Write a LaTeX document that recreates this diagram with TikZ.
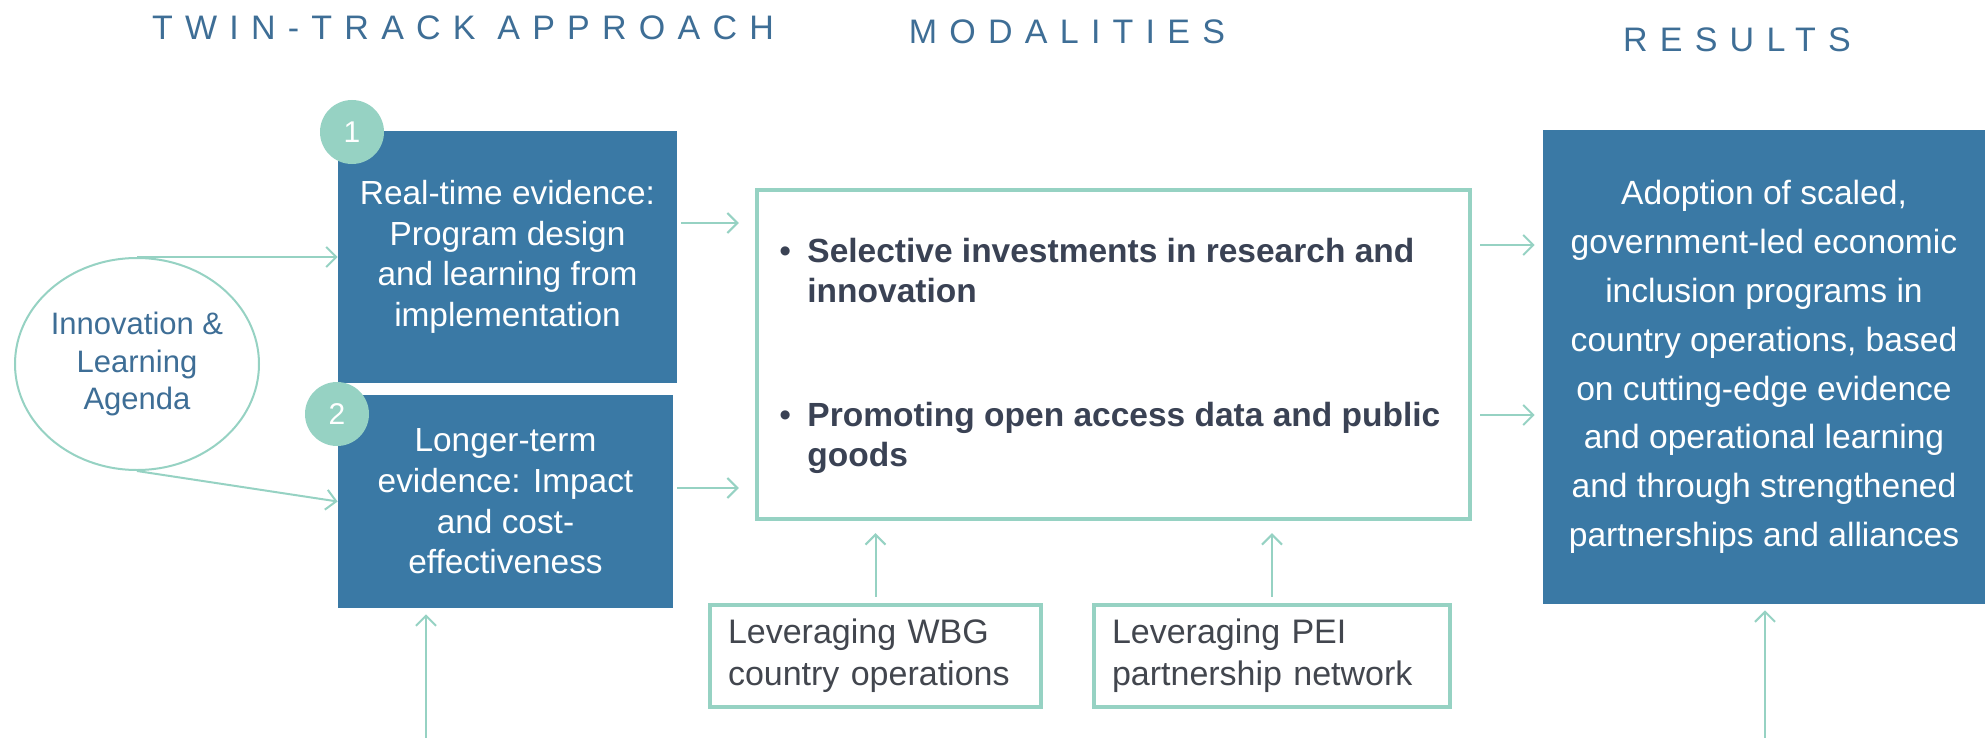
\documentclass[tikz,border=0pt]{standalone}
\usepackage{fontspec}
\setmainfont{Liberation Sans}
\newfontfamily\headfont[LetterSpace=36]{Liberation Sans}
\usepackage{xcolor}
\definecolor{steel}{RGB}{58,121,165}
\definecolor{mint}{RGB}{150,210,195}
\definecolor{headblue}{RGB}{62,110,150}
\definecolor{slate}{RGB}{58,66,84}
\definecolor{greytxt}{RGB}{66,70,78}
\usetikzlibrary{calc,positioning,arrows.meta,shapes.geometric}
\tikzset{
    track/.style={
    rectangle,fill=steel,text=white,align=center,inner sep=0pt,
    font=\fontsize{16.7}{20.3}\selectfont
    },
    num/.style={
    circle,fill=mint,text=white,minimum size=32pt,inner sep=0pt,
    font=\fontsize{15}{15}\selectfont
    },
    agenda/.style={
    ellipse,draw=mint,line width=1pt,text=headblue,align=center,inner sep=0pt,
    minimum width=122pt,minimum height=106pt,font=\fontsize{15.5}{18.75}\selectfont
    },
    modbox/.style={rectangle,draw=mint,line width=2.2pt,fill=white,minimum width=356.5pt,minimum height=164.5pt},
  bultext/.style={text=slate,inner sep=0pt,font=\fontsize{16.75}{20.25}\selectfont},
  lever/.style={rectangle,draw=mint,line width=2.2pt,text=greytxt,align=left,minimum height=51pt,inner xsep=9pt,
    font=\fontsize{17}{21}\selectfont},
  head/.style={text=headblue,inner sep=0pt,font=\headfont\fontsize{17}{17}\selectfont},
  line/.style={draw=mint,line width=1pt,-{Straight Barb[length=5pt,width=10pt]}}
}

\begin{document}
\begin{tikzpicture}[x=0.5pt,y=-0.5pt]
    \useasboundingbox (0,0) rectangle (1985,738);
    \fill[white] (0,0) rectangle (1985,738);

    \node[head] (twin) at (463,28) {TWIN-TRACK APPROACH};
    \node[head] (moda) at (1067,32) {MODALITIES};
    \node[head] (resh) at (1737,40) {RESULTS};

    \node[agenda] (innov) at (137,364) {Innovation \&\\Learning\\Agenda};

    % twin tracks
    \node[track,minimum width=169.5pt,minimum height=126pt] (real) at (507.5,257)
      {Real-time evidence:\\Program design\\and learning from\\implementation};
    \node[track,minimum width=167.5pt,minimum height=106.5pt] (longer) at (505.5,501.5)
      {Longer-term\\evidence: Impact\\and cost-\\effectiveness};
    \node[num] (one) at (352,132) {1};
    \node[num] (two) at (337,414) {2};

    % modalities
    \node[modbox] (mod) at (1113.5,354.5) {};
    \node[bultext,anchor=base west] (sel) at (779,262) {\parbox[t]{340pt}{\makebox[14pt][l]{\textbullet}\textbf{Selective investments in research and}\\\hspace*{14pt}\textbf{innovation}}};
    \node[bultext,anchor=base west] (prom) at (779,426) {\parbox[t]{340pt}{\makebox[14pt][l]{\textbullet}\textbf{Promoting open access data and public}\\\hspace*{14pt}\textbf{goods}}};

    \node[lever,minimum width=165.5pt,text width=147.5pt] (wbg) at (875.5,656) {Leveraging WBG\\country operations};
    \node[lever,minimum width=178pt,text width=160pt] (pei) at (1272,656) {Leveraging PEI\\partnership network};

    % results
    \node[track,minimum width=221pt,minimum height=237pt,font=\fontsize{16.8}{24.4}\selectfont] (res) at (1764,367)
      {Adoption of scaled,\\government-led economic\\inclusion programs in\\country operations, based\\on cutting-edge evidence\\and operational learning\\and through strengthened\\partnerships and alliances};

    \coordinate (bl) at (426,738);
    \coordinate (br) at (1765,738);

    \begin{scope}[every path/.style=line]
      \path (innov.north) -- (innov.north -| real.west);
      \path (innov.south) -- (longer.west);
      \path[shorten <=2pt,shorten >=8pt] ([yshift=17pt]real.east) -- ([yshift=17pt]real.east -| mod.west);
      \path[shorten <=2pt,shorten >=8pt] ([yshift=6.75pt]longer.east) -- ([yshift=6.75pt]longer.east -| mod.west);
      \path[shorten <=4pt,shorten >=4pt] ([yshift=54.75pt]mod.east) -- ([yshift=54.75pt]mod.east -| res.west);
      \path[shorten <=4pt,shorten >=4pt] ([yshift=-30.25pt]mod.east) -- ([yshift=-30.25pt]mod.east -| res.west);
      \path[shorten <=3pt,shorten >=6pt] (wbg.north) -- (wbg.north |- mod.south);
      \path[shorten <=3pt,shorten >=6pt] (pei.north) -- (pei.north |- mod.south);
      \path[shorten >=3pt] (bl) -- (bl |- longer.south);
      \path[shorten >=3pt] (br) -- (br |- res.south);
    \end{scope}

\end{tikzpicture}
\end{document}
